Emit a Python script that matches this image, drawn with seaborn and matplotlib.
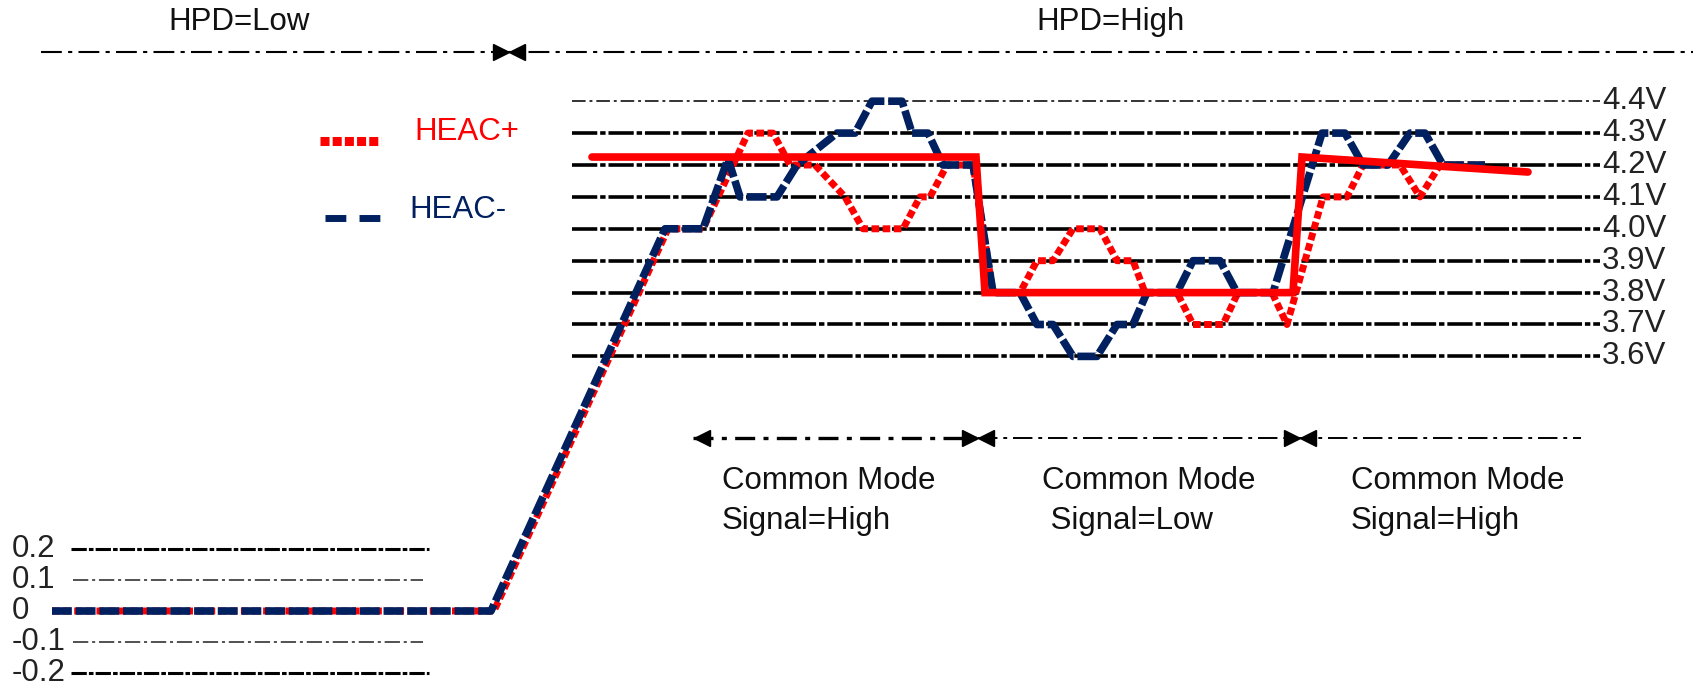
# -*- coding: utf-8 -*-
"""
HEAC 差分信号示意图: HPD 状态、共模信号高/低与 HEAC+/HEAC- 电平。
"""
import numpy as np
import matplotlib
matplotlib.use('Agg')
import matplotlib.pyplot as plt
import matplotlib.transforms as mtransforms
import seaborn as sns

RED = '#ff0000'
NAVY = '#002060'

# ------------------------------------------------------------
#  数据 (t: 任意时间单位, v: 电压 V)
# ------------------------------------------------------------
heac_minus_t = [52, 491, 665, 703, 728, 740, 777, 797, 837, 855, 872, 902, 912,
                928, 943, 973, 993, 1020, 1037, 1053, 1073, 1097, 1117, 1133,
                1147, 1177, 1193, 1220, 1237, 1273, 1322, 1345, 1363, 1388,
                1410, 1425, 1443, 1485]
heac_minus_v = [0, 0, 4.0, 4.0, 4.22, 4.1, 4.1, 4.2, 4.3, 4.3, 4.4, 4.4, 4.3,
                4.3, 4.2, 4.2, 3.8, 3.8, 3.7, 3.7, 3.6, 3.6, 3.7, 3.7,
                3.8, 3.8, 3.9, 3.9, 3.8, 3.8, 4.3, 4.3, 4.2, 4.2,
                4.3, 4.3, 4.2, 4.2]

heac_plus_t = [52, 494, 668, 703, 748, 773, 790, 815, 845, 863, 903, 920, 930,
               947, 973, 993, 1020, 1037, 1053, 1073, 1100, 1117, 1133, 1145,
               1177, 1193, 1223, 1238, 1272, 1287, 1323, 1347, 1363, 1400,
               1420, 1440, 1485]
heac_plus_v = [0, 0, 4.0, 4.0, 4.3, 4.3, 4.2, 4.2, 4.1, 4.0, 4.0, 4.1, 4.1,
               4.2, 4.2, 3.8, 3.8, 3.9, 3.9, 4.0, 4.0, 3.9, 3.9, 3.8,
               3.8, 3.7, 3.7, 3.8, 3.8, 3.7, 4.1, 4.1, 4.2, 4.2,
               4.1, 4.2, 4.2]

# 共模电平 (粗红线)
common_t = [592, 976, 985, 1293, 1302, 1528]
common_v = [4.225, 4.225, 3.8, 3.8, 4.225, 4.178]

high_levels = [4.4, 4.3, 4.2, 4.1, 4.0, 3.9, 3.8, 3.7, 3.6]
high_labels = ['4.4V', '4.3V', '4.2V', '4.1V', '4.0V', '3.9V', '3.8V', '3.7V', '3.6V']
low_levels = [0.2, 0.1, 0, -0.1, -0.2]
low_labels = ['0.2', '0.1', '0', '-0.1', '-0.2']

hpd_labels = ['HPD=Low', 'HPD=High']
hpd_edge = 509
cm_line1 = ['Common Mode', 'Common Mode', 'Common Mode']
cm_line2 = ['Signal=High', ' Signal=Low', 'Signal=High']
cm_edges = [978, 1300]

# ------------------------------------------------------------
#  断轴: 0 V 附近与 3.6~4.4 V 区域各自线性
# ------------------------------------------------------------
V_KNOTS = [-1.0, 0.3, 3.5, 6.0]
F_KNOTS = [79 - 310, 79 + 310 * 0.3, 525 - 319 * 0.7, 525 + 319 * 1.8]


def forward(v):
    return np.interp(np.asarray(v, dtype=float), V_KNOTS, F_KNOTS)


def inverse(f):
    return np.interp(np.asarray(f, dtype=float), F_KNOTS, V_KNOTS)


W, H = 1696, 690
sns.set_theme(style='white')
plt.rcParams['font.family'] = ['Liberation Sans', 'DejaVu Sans']
FS = 22.5

fig = plt.figure(figsize=(W / 100, H / 100), dpi=100)
ax = fig.add_axes([0, 0, 1, 1])
ax.set_yscale('function', functions=(forward, inverse))
ax.set_xlim(0, W)
ax.set_ylim(inverse(0), inverse(H))
ax.axis('off')

# 像素位置 (x 为数据坐标, y 从顶部计像素)
trans = mtransforms.blended_transform_factory(ax.transData, ax.transAxes)


def ypx(y):
    return 1 - y / H


# 参考电平虚线
grid_ls = (0, (7, 0.8, 1.5, 0.8))
ax.hlines(high_levels[0], 572, 1600, color='#333333', lw=1.4,
          linestyle=(0, (7, 2.0, 1.5, 2.0)), zorder=1)
ax.hlines(high_levels[1:], 572, 1600, color='black', lw=2.6,
          linestyle=grid_ls, zorder=1)
for lv in [0.2, -0.2]:
    ax.hlines(lv, 71, 429, color='black', lw=2.2, linestyle=(0, (5, 0.7, 1.5, 0.7)), zorder=1)
for lv in [0.1, -0.1]:
    ax.hlines(lv, 73, 423, color='#222222', lw=1.1, linestyle=(0, (10, 2.5, 2, 2.5)), zorder=1)

for lv, lab in zip(high_levels, high_labels):
    ax.text(1602, lv, lab, fontsize=FS, color='#222222', ha='left', va='center')
for lv, lab in zip(low_levels, low_labels):
    ax.text(12, lv, lab, fontsize=FS, color='#222222', ha='left', va='center')

# HEAC+ / HEAC- 波形
sns.lineplot(x=heac_plus_t, y=heac_plus_v, ax=ax, sort=False, estimator=None,
             color=RED, lw=5, linestyle=(0, (1.1, 0.5)), zorder=3)
sns.lineplot(x=heac_minus_t, y=heac_minus_v, ax=ax, sort=False, estimator=None,
             color=NAVY, lw=5.5, linestyle=(0, (2.6, 0.5)), zorder=4)
sns.lineplot(x=common_t, y=common_v, ax=ax, sort=False, estimator=None,
             color=RED, lw=5.5, solid_joinstyle='miter', zorder=5)
ax.set_xlabel('')
ax.set_ylabel('')

# 图例
ax.plot([320, 381], [ypx(141)] * 2, transform=trans, color=RED, lw=6.5,
        linestyle=(0, (1.0, 0.35)))
ax.plot([325, 387], [ypx(218)] * 2, transform=trans, color=NAVY, lw=5,
        linestyle=(0, (3, 1.9)))
ax.text(414, ypx(132), 'HEAC+', transform=trans, fontsize=FS, color=RED, va='center')
ax.text(409, ypx(210), 'HEAC-', transform=trans, fontsize=FS, color=NAVY, va='center')

# HPD 区域
ax.plot([41, 1693], [ypx(52)] * 2, transform=trans, color='black', lw=1.5,
        linestyle=(0, (10, 3, 2, 3)))
ax.plot([hpd_edge - 8], [ypx(52)], transform=trans, linestyle='none',
        marker='>', ms=11.5, color='black')
ax.plot([hpd_edge + 8], [ypx(52)], transform=trans, linestyle='none',
        marker='<', ms=11.5, color='black')
for x0, lab in zip([168, 1036], hpd_labels):
    ax.text(x0, ypx(22), lab, transform=trans, fontsize=FS, color='#111111', va='center')

# 共模区域
ax.plot([693, cm_edges[0]], [ypx(438)] * 2, transform=trans, color='black', lw=2.4,
        linestyle=(0, (6, 2.5, 1.5, 2.5)))
ax.plot([cm_edges[0], 1581], [ypx(438)] * 2, transform=trans, color='black', lw=1.4,
        linestyle=(0, (10, 3, 2, 3)))
ax.plot([702], [ypx(438)], transform=trans, linestyle='none', marker='<', ms=12,
        color='black')
for e in cm_edges:
    ax.plot([e - 8], [ypx(438)], transform=trans, linestyle='none', marker='>',
            ms=11.5, color='black')
    ax.plot([e + 8], [ypx(438)], transform=trans, linestyle='none', marker='<',
            ms=11.5, color='black')
for x0, l1, l2 in zip([722, 1042, 1351], cm_line1, cm_line2):
    ax.text(x0, ypx(481), l1, transform=trans, fontsize=FS, color='#111111', va='center')
    ax.text(x0, ypx(521), l2, transform=trans, fontsize=FS, color='#111111', va='center')

fig.savefig('out.png', dpi=100, facecolor='white')
plt.close(fig)
